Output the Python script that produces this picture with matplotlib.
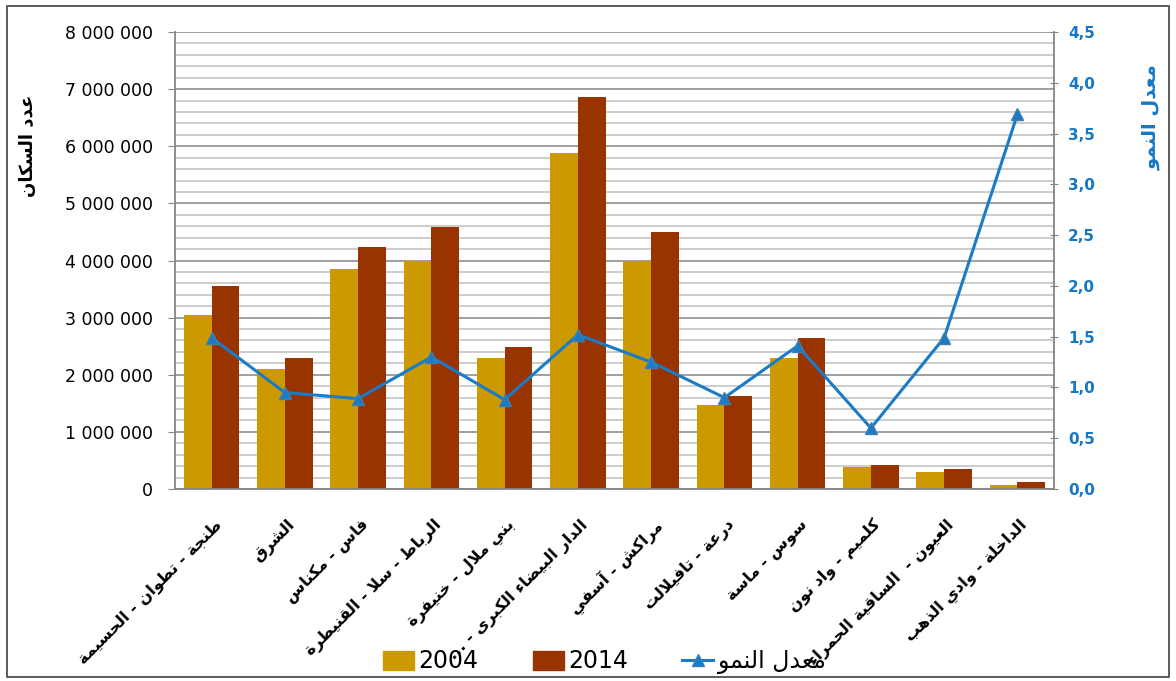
import matplotlib
matplotlib.use('Agg')
import matplotlib.pyplot as plt
import matplotlib.transforms as mtransforms
from matplotlib.lines import Line2D
from matplotlib.patches import Patch, Rectangle
import numpy as np

regions = ['طنجة - تطوان - الحسيمة', 'الشرق', 'فاس - مكناس',
           'الرباط - سلا - القنيطرة', 'بني ملال - خنيفرة',
           'الدار البيضاء الكبرى - ...', 'مراكش - آسفي', 'درعة - تافيلالت',
           'سوس - ماسة', 'كلميم - واد نون', 'العيون -  الساقية الحمراء',
           'الداخلة - وادي الذهب']
pop_2004 = [3050000, 2095000, 3850000, 4000000, 2300000, 5880000,
            4000000, 1470000, 2300000, 390000, 290000, 70000]
pop_2014 = [3560000, 2300000, 4240000, 4590000, 2490000, 6860000,
            4500000, 1620000, 2640000, 420000, 345000, 117000]
growth = [1.49, 0.95, 0.89, 1.30, 0.88, 1.52, 1.25, 0.90, 1.41, 0.60, 1.49, 3.69]

# arabic letters -> (isolated form code, number of forms)
FORMS = {'ء': (0xFE80, 1), 'آ': (0xFE81, 2), 'أ': (0xFE83, 2), 'ؤ': (0xFE85, 2),
         'إ': (0xFE87, 2), 'ئ': (0xFE89, 4), 'ا': (0xFE8D, 2), 'ب': (0xFE8F, 4),
         'ة': (0xFE93, 2), 'ت': (0xFE95, 4), 'ث': (0xFE99, 4), 'ج': (0xFE9D, 4),
         'ح': (0xFEA1, 4), 'خ': (0xFEA5, 4), 'د': (0xFEA9, 2), 'ذ': (0xFEAB, 2),
         'ر': (0xFEAD, 2), 'ز': (0xFEAF, 2), 'س': (0xFEB1, 4), 'ش': (0xFEB5, 4),
         'ص': (0xFEB9, 4), 'ض': (0xFEBD, 4), 'ط': (0xFEC1, 4), 'ظ': (0xFEC5, 4),
         'ع': (0xFEC9, 4), 'غ': (0xFECD, 4), 'ف': (0xFED1, 4), 'ق': (0xFED5, 4),
         'ك': (0xFED9, 4), 'ل': (0xFEDD, 4), 'م': (0xFEE1, 4), 'ن': (0xFEE5, 4),
         'ه': (0xFEE9, 4), 'و': (0xFEED, 2), 'ى': (0xFEEF, 2), 'ي': (0xFEF1, 4)}
LAM_ALEF = {'آ': 0xFEF5, 'أ': 0xFEF7, 'إ': 0xFEF9, 'ا': 0xFEFB}


def ar(text):
    """shape arabic text and reverse it for display"""
    out = []
    i = 0
    n = len(text)
    while i < n:
        ch = text[i]
        if ch not in FORMS:
            out.append(ch)
            i += 1
            continue
        prev = text[i - 1] if i > 0 else ''
        prev_joins = prev in FORMS and FORMS[prev][1] == 4
        if ch == 'ل' and i + 1 < n and text[i + 1] in LAM_ALEF:
            code = LAM_ALEF[text[i + 1]] + (1 if prev_joins else 0)
            out.append(chr(code))
            i += 2
            continue
        base, nf = FORMS[ch]
        nxt = text[i + 1] if i + 1 < n else ''
        next_joins = nf == 4 and nxt in FORMS and FORMS[nxt][1] >= 2
        if nf == 1:
            code = base
        elif nf == 2:
            code = base + 1 if prev_joins else base
        else:
            if prev_joins and next_joins:
                code = base + 3
            elif prev_joins:
                code = base + 1
            elif next_joins:
                code = base + 2
            else:
                code = base
        out.append(chr(code))
        i += 1
    return ''.join(reversed(out))


plt.rcParams['font.family'] = ['DejaVu Sans']

gold = '#CC9900'
brown = '#993300'
blue = '#1A7BC6'

fig = plt.figure(figsize=(11.76, 6.81), dpi=100)
ax = fig.add_axes([0.1488, 0.2819, 0.7475, 0.6711])

x = np.arange(len(regions))
w = 0.38
ax.bar(x - w / 2, pop_2004, w, color=gold, zorder=2)
ax.bar(x + w / 2, pop_2014, w, color=brown, zorder=2)

ax.set_xlim(-0.5, len(regions) - 0.5)
ax.set_ylim(0, 8000000)
ax.set_yticks(np.arange(0, 8000001, 1000000))
ax.set_yticks(np.arange(0, 8000001, 200000), minor=True)
ax.set_yticklabels([f'{v:,.0f}'.replace(',', ' ') for v in np.arange(0, 8000001, 1000000)],
                   fontsize=12.5)
ax.grid(True, which='minor', axis='y', color='#c8c8c8', lw=1.3, zorder=0)
ax.grid(True, which='major', axis='y', color='#979797', lw=1.3, zorder=0)
ax.set_axisbelow(True)
ax.tick_params(axis='y', which='major', length=5, pad=11, color='#868686')
ax.tick_params(axis='y', which='minor', length=0)

ax.set_xticks(x)
ax.set_xticklabels([ar(r) for r in regions], rotation=45, ha='right', va='top',
                   rotation_mode='anchor', fontsize=11.5, fontweight='bold')
ax.tick_params(axis='x', length=0, pad=20)
offset = mtransforms.ScaledTranslation(2 / 100, 0, fig.dpi_scale_trans)
for lab in ax.get_xticklabels():
    lab.set_transform(lab.get_transform() + offset)

for s in ['top', 'right']:
    ax.spines[s].set_visible(False)
for s in ['left', 'bottom']:
    ax.spines[s].set_color('#868686')
    ax.spines[s].set_linewidth(1.3)

ax2 = ax.twinx()
ax2.plot(x, growth, color=blue, lw=2.2, marker='^', markersize=9,
         markerfacecolor=blue, markeredgecolor='#3f7faf', zorder=3)
ax2.set_ylim(0, 4.5)
ax2.set_yticks(np.arange(0, 4.51, 0.5))
ax2.set_yticklabels([f'{v:.1f}'.replace('.', ',') for v in np.arange(0, 4.51, 0.5)],
                    fontsize=11, color='#1577C8', fontweight='bold')
ax2.tick_params(axis='y', length=6, direction='inout', pad=7, color='#868686')
for s in ['top', 'left', 'bottom']:
    ax2.spines[s].set_visible(False)
ax2.spines['right'].set_color('#868686')
ax2.spines['right'].set_linewidth(1.3)

fig.text(0.024, 0.786, ar('عدد السكان'), rotation=90, ha='center', va='center',
         fontsize=13, fontweight='bold', color='black')
fig.text(0.979, 0.828, ar('معدل النمو'), rotation=90, ha='center', va='center',
         fontsize=14, fontweight='bold', color='#1577C8')

handles = [Patch(color=gold), Patch(color=brown),
           Line2D([], [], color=blue, lw=2.2, marker='^', markersize=9,
                  markeredgecolor='#3f7faf')]
fig.legend(handles, ['2004', '2014', ar('معدل النمو')], loc='center',
           bbox_to_anchor=(0.514, 0.028), ncol=3, frameon=False, fontsize=17,
           handlelength=1.3, handleheight=0.85, handletextpad=0.2,
           columnspacing=2.3)

fig.patches.append(Rectangle((0.006, 0.006), 0.988, 0.985, transform=fig.transFigure,
                             fill=False, edgecolor='#404040', lw=1.2))

plt.savefig('out.png', dpi=100)
